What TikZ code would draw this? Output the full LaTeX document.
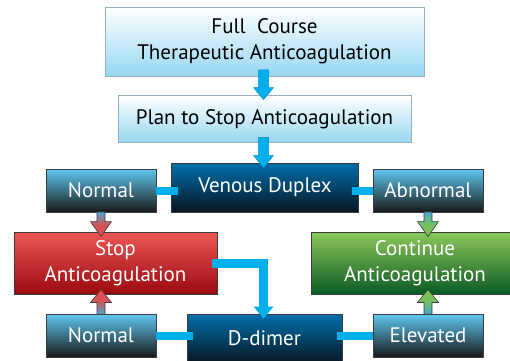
\documentclass[tikz,border=0pt]{standalone}
\usepackage{fontspec}
\setmainfont{PT Sans}
\usetikzlibrary{calc}
\definecolor{cyanA}{RGB}{0,176,236}
\definecolor{cyanEdge}{RGB}{0,140,200}
\definecolor{lightB}{RGB}{150,215,242}
\definecolor{lightEdge}{RGB}{150,175,195}
\definecolor{dbTop}{RGB}{0,112,172}
\definecolor{dbMid}{RGB}{6,70,110}
\definecolor{dbBot}{RGB}{8,22,34}
\definecolor{gTop}{RGB}{95,200,240}
\definecolor{gMid}{RGB}{80,100,115}
\definecolor{gBot}{RGB}{24,24,24}
\definecolor{rTop}{RGB}{236,86,86}
\definecolor{rBot}{RGB}{155,10,15}
\definecolor{vTop}{RGB}{140,200,90}
\definecolor{vBot}{RGB}{10,90,35}
\definecolor{edgeD}{RGB}{60,60,60}
\definecolor{arBlue}{RGB}{70,170,210}
\definecolor{arRed}{RGB}{232,72,72}
\definecolor{arGreen}{RGB}{125,195,80}
\newcommand\fatarrow[6]{\path[#1] let \p1=#2, \p2=#3 in
  (\x1-#4,\y1) -- (\x1-#4,\y2+#6) -- (\x1-#5,\y2+#6) -- (\x1,\y2) --
  (\x1+#5,\y2+#6) -- (\x1+#4,\y2+#6) -- (\x1+#4,\y1) -- cycle;}
\begin{document}
\begin{tikzpicture}[x=1pt,y=1pt,
  box/.style={draw=edgeD, line width=0.9pt, align=center, inner sep=2pt,
    font=\fontsize{21}{26}\selectfont},
  lightbox/.style={box, draw=lightEdge, top color=white, bottom color=lightB, text=black},
  darkbox/.style={box, top color=dbTop, middle color=dbMid, bottom color=dbBot, text=white},
  greybox/.style={box, top color=gTop, middle color=gMid, bottom color=gBot, text=white,
    minimum width=110pt, minimum height=43pt},
  redbox/.style={box, top color=rTop, bottom color=rBot, text=white},
  greenbox/.style={box, top color=vTop, bottom color=vBot, text=white},
  conn/.style={draw=cyanA, line width=8pt},
  cyanarrow/.style={fill=cyanA, draw=cyanEdge, line width=0.5pt},
  redarrowdown/.style={shade, top color=arBlue, bottom color=arRed, middle color=arRed!85!arBlue, draw=edgeD, line width=0.6pt},
  redarrowup/.style={shade, bottom color=arBlue, top color=arRed, middle color=arRed!85!arBlue, draw=edgeD, line width=0.6pt},
  greenarrowdown/.style={shade, top color=arBlue, bottom color=arGreen, middle color=arGreen!85!arBlue, draw=edgeD, line width=0.6pt},
  greenarrowup/.style={shade, bottom color=arBlue, top color=arGreen, middle color=arGreen!85!arBlue, draw=edgeD, line width=0.6pt}]
\useasboundingbox (0,0) rectangle (510,360);
\clip (0,0) rectangle (510,360);
\node[lightbox, minimum width=319pt, minimum height=69pt] (full) at (264.5,318.5) {Full\ \ Course\\Therapeutic Anticoagulation};
\node[lightbox, minimum width=293pt, minimum height=47pt] (plan) at (264.5,241) {Plan to Stop Anticoagulation};
\node[darkbox, minimum width=187pt, minimum height=49pt] (vd) at (265,172.5) {Venous Duplex};
\node[greybox] (nt) at (101,169.5) {Normal};
\node[greybox] (ab) at (428,169.5) {Abnormal};
\node[redbox, minimum width=203pt, minimum height=62pt] (stop) at (115.5,97) {Stop\\Anticoagulation};
\node[greenbox, minimum width=208pt, minimum height=62pt] (cont) at (415,97) {Continue\\Anticoagulation};
\node[greybox] (nb) at (101,24.5) {Normal};
\node[darkbox, minimum width=155pt, minimum height=49pt] (dd) at (264.5,21.5) {D-dimer};
\node[greybox] (el) at (428,24.5) {Elevated};
% connectors
\draw[conn] (nt.east) -- ([xshift=7pt]nt.east -| vd.west);
\draw[conn] ([xshift=-7pt]ab.west -| vd.east) -- (ab.west);
\draw[conn] (nb.east) -- ([xshift=6pt]nb.east -| dd.west);
\draw[conn] ([xshift=-5pt]el.west -| dd.east) -- (el.west);
% elbow
\draw[draw=cyanA, line width=9pt, line join=miter] ([xshift=-5pt]stop.east) -| ($(dd.north)+(-1,52-46)$);
\fill[cyanA] ($(dd.north)+(-11,7)$) -- ($(dd.north)+(-1,-5)$) -- ($(dd.north)+(9,7)$) -- cycle;
% cyan arrows
\fatarrow{cyanarrow}{($(full.south)+(-1,6.5)$)}{($(plan.north)+(-1,-4.5)$)}{5pt}{10pt}{12pt}
\fatarrow{cyanarrow}{($(plan.south)+(-1,5.5)$)}{($(vd.north)+(-2,-5)$)}{5pt}{10pt}{12pt}
% coloured arrows
\fatarrow{redarrowdown}{($(nt.south)+(0,0.5)$)}{($(stop.north -| nt.south)+(0,-5)$)}{4pt}{10.5pt}{15pt}
\fatarrow{redarrowup}{($(nb.north)+(0,-0.5)$)}{($(stop.south -| nb.north)+(0,5)$)}{4pt}{10.5pt}{-13pt}
\fatarrow{greenarrowdown}{($(ab.south)+(0,0.5)$)}{($(cont.north -| ab.south)+(0,-5)$)}{4pt}{10.5pt}{15pt}
\fatarrow{greenarrowup}{($(el.north)+(0,-0.5)$)}{($(cont.south -| el.north)+(0,5)$)}{4pt}{10.5pt}{-13pt}
\end{tikzpicture}
\end{document}
